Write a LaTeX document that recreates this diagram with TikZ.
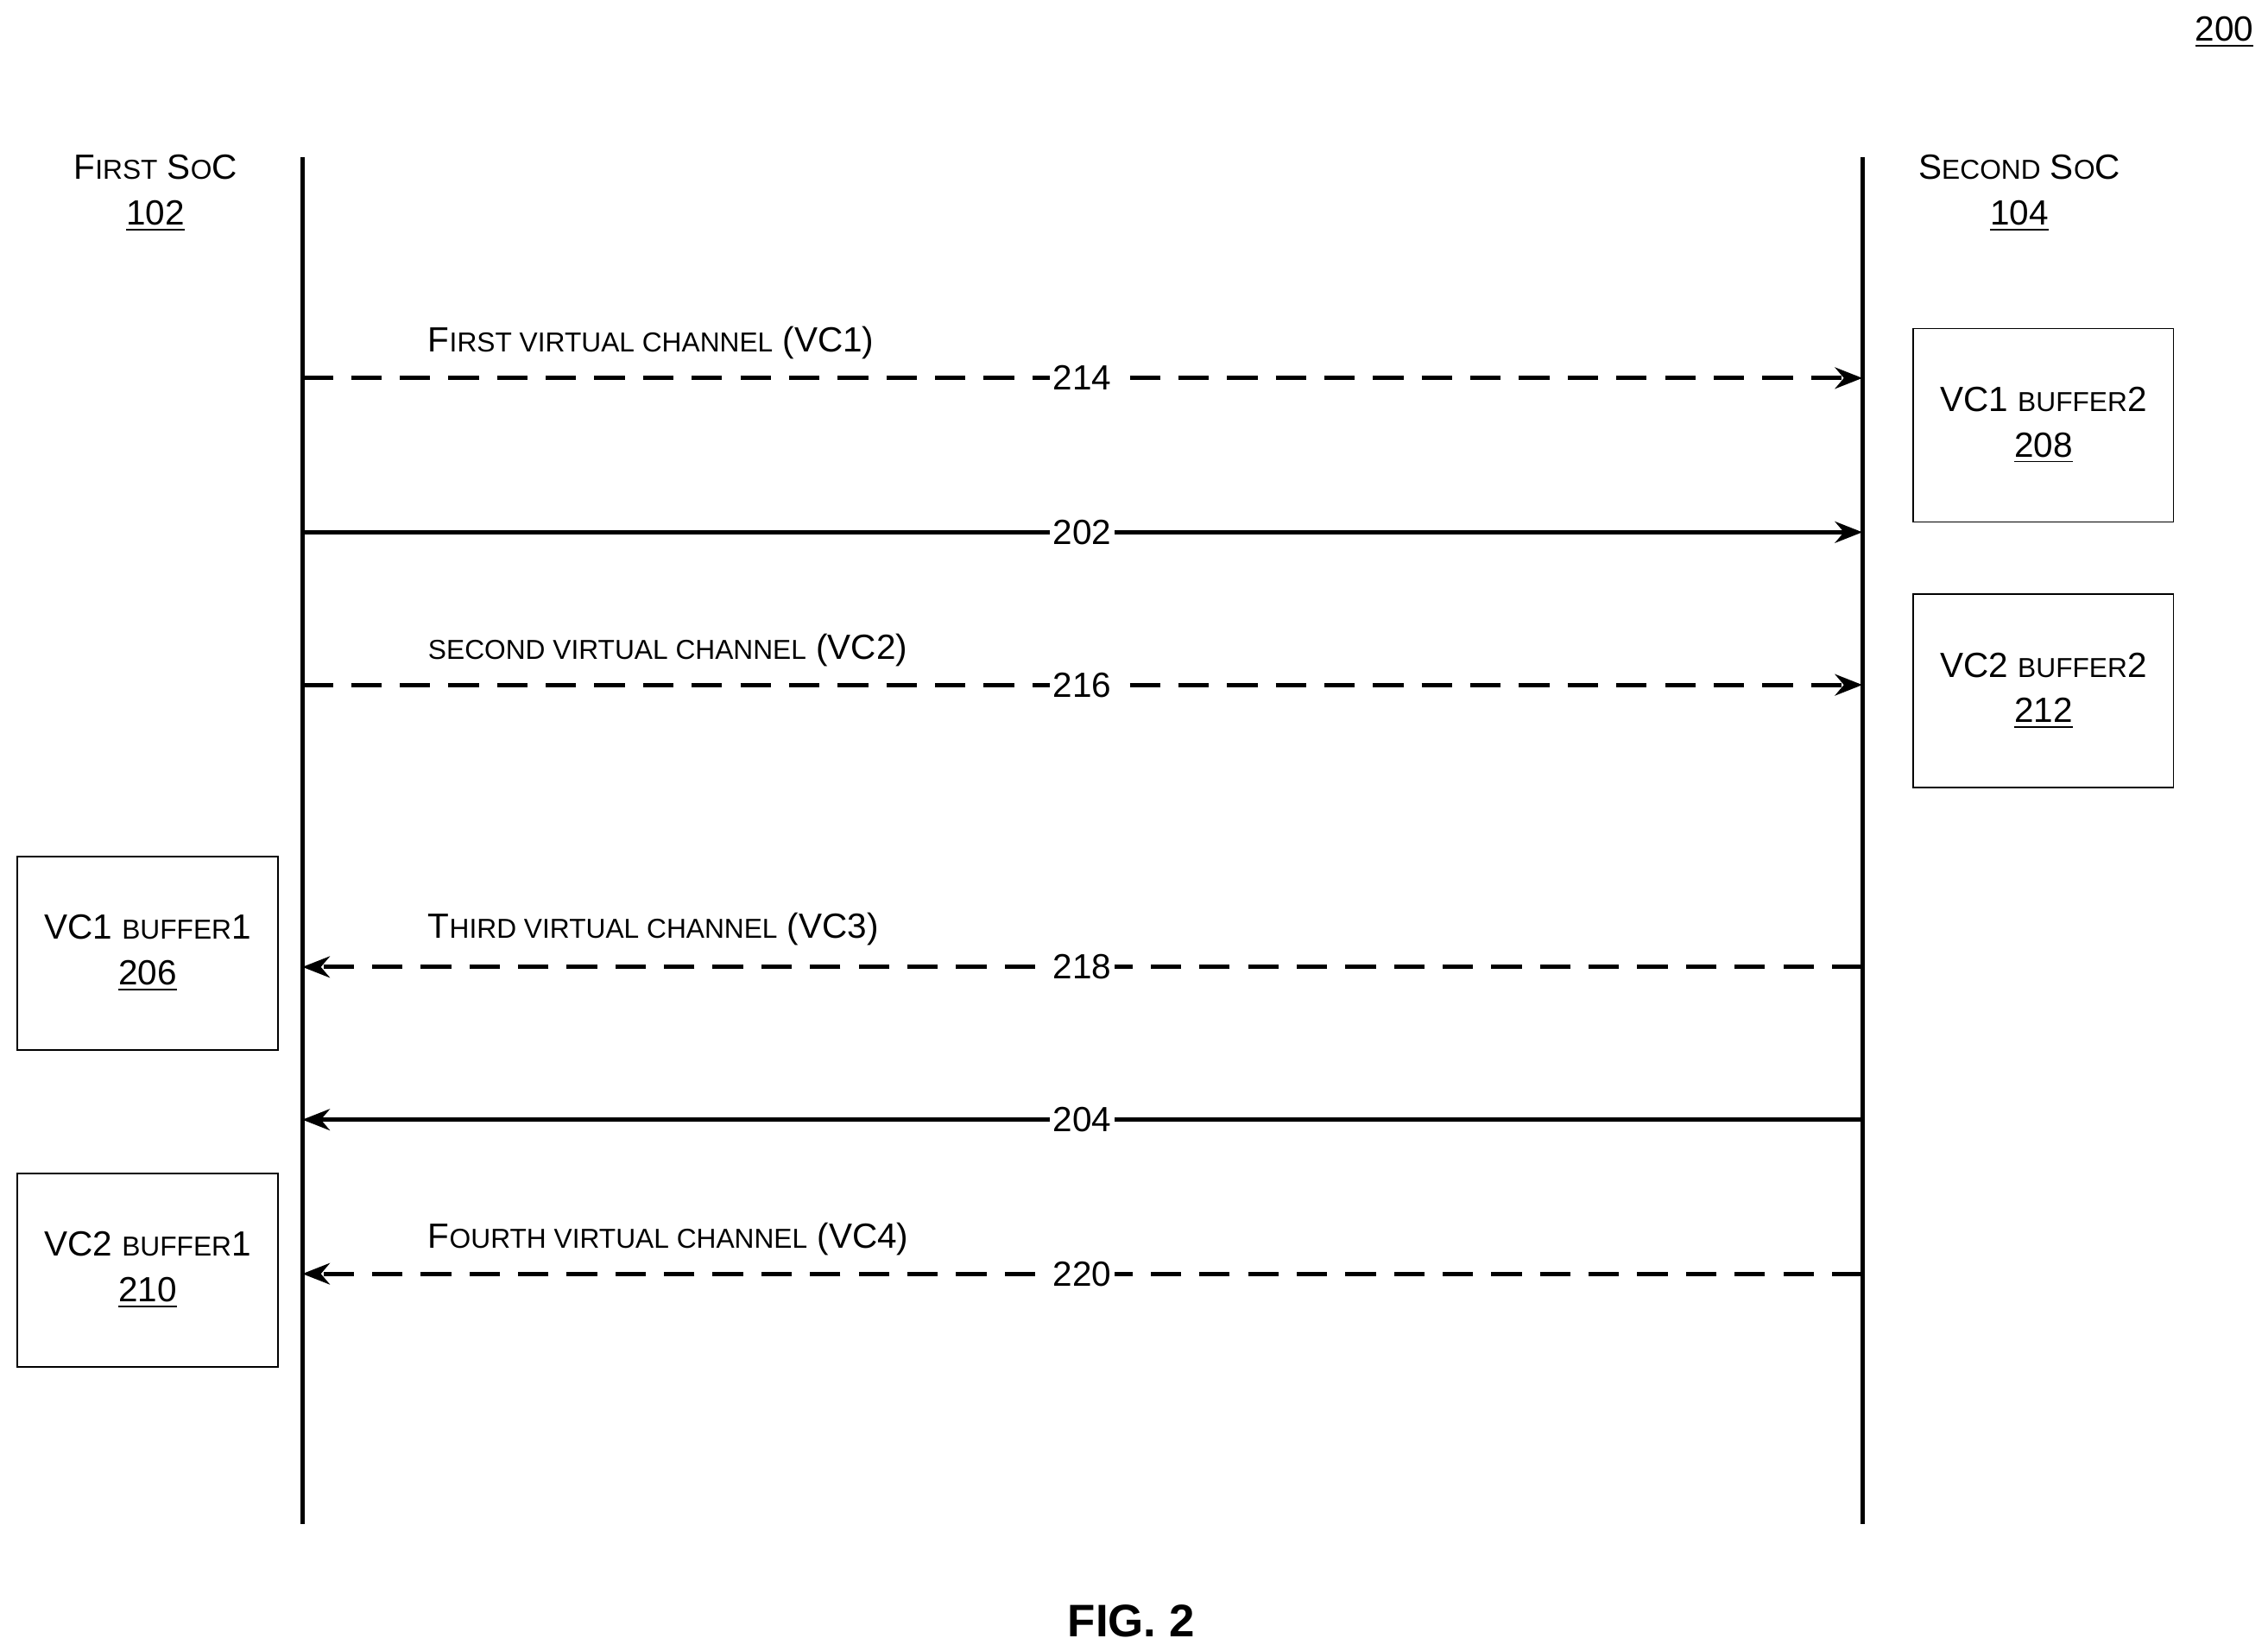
\documentclass[tikz,border=0pt]{standalone}
\usepackage{fontspec}
\setmainfont{Liberation Sans}
\usetikzlibrary{arrows.meta}
\newcommand{\sm}[1]{{\fontsize{9}{10}\selectfont #1}}
\begin{document}
\begin{tikzpicture}[x=0.0168cm,y=-0.0168cm,
  lbl/.style={font=\fontsize{11.5}{13}\selectfont,inner sep=1pt},
  num/.style={font=\fontsize{11.5}{13}\selectfont,fill=white,inner sep=1pt},
  buf/.style={draw,line width=0.5pt,minimum width=179*0.0168cm,minimum height=133*0.0168cm,align=center,font=\fontsize{11.5}{15}\selectfont},
  life/.style={line width=1.4pt},
  sig/.style={line width=1.4pt,-{Stealth[length=9pt,width=7pt]}},
  dsh/.style={dash pattern=on 10pt off 6pt}]
\useasboundingbox (0,0) rectangle (1560,1135);
\node[lbl] (n200) at (1530,22) {\underline{200}};
\node[lbl,align=center] (s1) at (107,133) {F\sm{IRST} S\sm{O}C\\[2pt]\underline{102}};
\node[lbl,align=center] (s2) at (1389,133) {S\sm{ECOND} S\sm{O}C\\[2pt]\underline{104}};
\coordinate (lt) at (208,108); \coordinate (lb) at (208,1048);
\coordinate (rt) at (1281,108); \coordinate (rb) at (1281,1048);
\draw[life] (lt) -- (lb); \draw[life] (rt) -- (rb);
\foreach \y/\n in {260/a,366/b,471/c,665/d,770/e,876/f}{
  \coordinate (L\n) at (208,\y); \coordinate (R\n) at (1281,\y);}
\draw[sig,dsh] (La) -- node[num]{214} (Ra);
\draw[sig] (Lb) -- node[num]{202} (Rb);
\draw[sig,dsh] (Lc) -- node[num]{216} (Rc);
\draw[sig,dsh] (Rd) -- node[num]{218} (Ld);
\draw[sig] (Re) -- node[num]{204} (Le);
\draw[sig,dsh] (Rf) -- node[num]{220} (Lf);
\node[lbl,anchor=west] (c1) at (292,236) {F\sm{IRST VIRTUAL CHANNEL} (VC1)};
\node[lbl,anchor=west] (c2) at (292,447) {\sm{SECOND VIRTUAL CHANNEL} (VC2)};
\node[lbl,anchor=west] (c3) at (292,639) {T\sm{HIRD VIRTUAL CHANNEL} (VC3)};
\node[lbl,anchor=west] (c4) at (292,852) {F\sm{OURTH VIRTUAL CHANNEL} (VC4)};
\node[buf] (b208) at (1405.5,292.5) {VC1 \sm{BUFFER}2\\\underline{208}};
\node[buf] (b212) at (1405.5,475) {VC2 \sm{BUFFER}2\\\underline{212}};
\node[buf] (b206) at (101.5,655.5) {VC1 \sm{BUFFER}1\\\underline{206}};
\node[buf] (b210) at (101.5,873.5) {VC2 \sm{BUFFER}1\\\underline{210}};
\node[font=\bfseries\fontsize{15}{18}\selectfont] (fig) at (778,1115) {FIG. 2};
\end{tikzpicture}
\end{document}
